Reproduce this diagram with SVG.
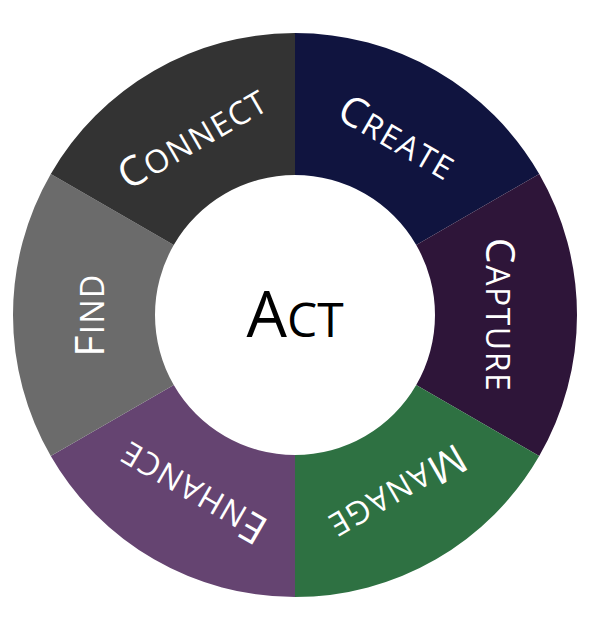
<svg xmlns="http://www.w3.org/2000/svg" width="590" height="620" viewBox="0 0 590 620">
<style>
.lbl{font-family:"Open Sans","Liberation Sans",sans-serif;fill:#ffffff;text-anchor:middle;font-size:41px;letter-spacing:1.5px}
.sm{font-size:32px}
.act{font-family:"Open Sans","Liberation Sans",sans-serif;fill:#000000;text-anchor:middle;font-size:64px}
.act .sm{font-size:48px}
</style>
<rect width="590" height="620" fill="#ffffff"/>
<g id="create">
<path d="M295,33 A282,282 0 0 1 539.22,174 L416.24,245 A140,140 0 0 0 295,175 Z" fill="#10143f"/>
<text class="lbl" transform="rotate(30 295 315) translate(295 110)" y="14">C<tspan class="sm">REATE</tspan></text>
</g>
<g id="capture">
<path d="M539.22,174 A282,282 0 0 1 539.22,456 L416.24,385 A140,140 0 0 0 416.24,245 Z" fill="#2e1539"/>
<text class="lbl" transform="rotate(90 295 315) translate(295 110)" y="14">C<tspan class="sm">APTURE</tspan></text>
</g>
<g id="manage">
<path d="M539.22,456 A282,282 0 0 1 295,597 L295,455 A140,140 0 0 0 416.24,385 Z" fill="#2e7142"/>
<text class="lbl" transform="rotate(150 295 315) translate(295 110)" y="14">M<tspan class="sm">ANAGE</tspan></text>
</g>
<g id="enhance">
<path d="M295,597 A282,282 0 0 1 50.78,456 L173.76,385 A140,140 0 0 0 295,455 Z" fill="#654471"/>
<text class="lbl" transform="rotate(210 295 315) translate(295 110)" y="14">E<tspan class="sm">NHANCE</tspan></text>
</g>
<g id="find">
<path d="M50.78,456 A282,282 0 0 1 50.78,174 L173.76,245 A140,140 0 0 0 173.76,385 Z" fill="#6b6b6b"/>
<text class="lbl" transform="rotate(270 295 315) translate(295 110)" y="14">F<tspan class="sm">IND</tspan></text>
</g>
<g id="connect">
<path d="M50.78,174 A282,282 0 0 1 295,33 L295,175 A140,140 0 0 0 173.76,245 Z" fill="#333333"/>
<text class="lbl" transform="rotate(330 295 315) translate(295 110)" y="14">C<tspan class="sm">ONNECT</tspan></text>
</g>
<g id="act">
<text class="act" x="295" y="337">A<tspan class="sm">CT</tspan></text>
</g>
<g id="connectors"/>
</svg>
